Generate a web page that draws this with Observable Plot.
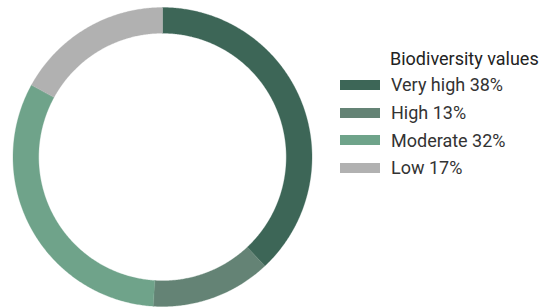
<!DOCTYPE html>
<html>
<head>
<meta charset="utf-8">
<script src="https://cdn.jsdelivr.net/npm/d3@7"></script>
<script src="https://cdn.jsdelivr.net/npm/@observablehq/plot@0.6"></script>
<style>
  html, body { margin: 0; padding: 0; background: #fff; }
  #wrap { position: relative; width: 545px; height: 308px; font-family: Roboto, "Noto Sans", sans-serif; }
  #legend { position: absolute; left: 340px; top: 47px; color: #333; }
  #legend .title { font-size: 18px; color: #222; margin-left: 50px; height: 24px; line-height: 24px; white-space: nowrap; }
  #legend .row { display: flex; align-items: center; height: 27.7px; font-size: 18px; white-space: nowrap; }
  #legend .sw { width: 40px; height: 10px; margin-right: 11px; flex: none; }
</style>
</head>
<body>
<div id="wrap"><div id="chart"></div><div id="legend"></div></div>
<script>
const categories = ["Very high", "High", "Moderate", "Low"];
const values = [38, 13, 32, 17];
const colors = ["#3d6657", "#648375", "#6fa38a", "#b1b1b1"];
const legendTitle = "Biodiversity values";

const innerRatio = 0.828;
const total = d3.sum(values);
let acc = 0;
const segments = categories.map((c, i) => {
  const a0 = acc / total * 2 * Math.PI;
  acc += values[i];
  const a1 = acc / total * 2 * Math.PI;
  const pts = [];
  const n = Math.max(2, Math.ceil((a1 - a0) / (Math.PI / 360)));
  for (let k = 0; k <= n; k++) {
    const a = a0 + (a1 - a0) * k / n;
    pts.push({x: Math.sin(a), y: Math.cos(a)});
  }
  for (let k = n; k >= 0; k--) {
    const a = a0 + (a1 - a0) * k / n;
    pts.push({x: innerRatio * Math.sin(a), y: innerRatio * Math.cos(a)});
  }
  return {cat: c, color: colors[i], pts};
});

const chart = Plot.plot({
  width: 545,
  height: 308,
  marginLeft: 12.5,
  marginRight: 233.5,
  marginTop: 7,
  marginBottom: 2,
  x: {domain: [-1, 1], axis: null},
  y: {domain: [-1, 1], axis: null},
  marks: segments.map(s => Plot.line(s.pts, {x: "x", y: "y", fill: s.color, stroke: s.color, strokeWidth: 0.3, curve: "linear-closed"}))
});
document.getElementById("chart").appendChild(chart);

const lg = document.getElementById("legend");
const t = document.createElement("div");
t.className = "title"; t.textContent = legendTitle;
lg.appendChild(t);
categories.forEach((c, i) => {
  const r = document.createElement("div");
  r.className = "row";
  const sw = document.createElement("div");
  sw.className = "sw"; sw.style.background = colors[i];
  const tx = document.createElement("span");
  tx.textContent = `${c} ${values[i]}%`;
  r.appendChild(sw); r.appendChild(tx);
  lg.appendChild(r);
});
</script>
</body>
</html>
